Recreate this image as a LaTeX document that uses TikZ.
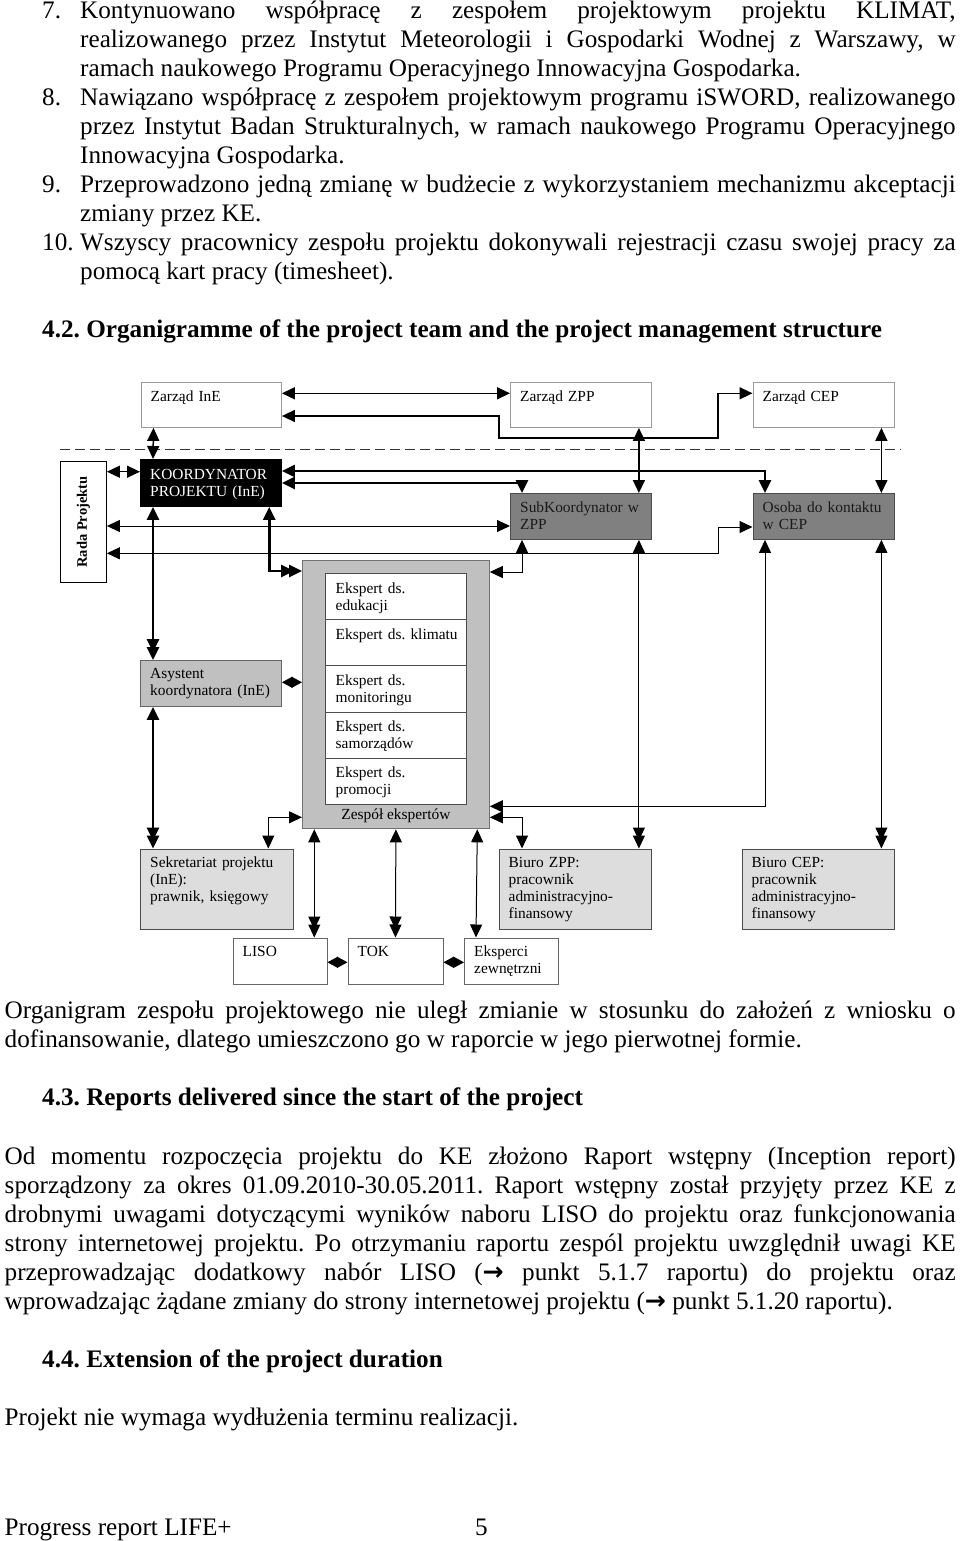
\documentclass[tikz,border=0pt]{standalone}
\usepackage{fontspec}
\setmainfont{Liberation Serif}
\newfontfamily\arrowfont{DejaVu Sans}
\usepackage{tikz}
\usetikzlibrary{arrows.meta,calc}
\definecolor{boxdark}{HTML}{808080}
\definecolor{boxmid}{HTML}{C0C0C0}
\definecolor{boxlight}{HTML}{DDDDDD}
\definecolor{rimgray}{HTML}{999999}
\newcommand\bodyfont{\fontsize{25.2pt}{29pt}\selectfont}
\newcommand\orgfont{\fontsize{15.4pt}{17pt}\selectfont}
\newcommand\fillto[2]{\makebox[#1][s]{#2}}
\newcommand\seeref{{\arrowfont\bfseries →}}
\frenchspacing
\tikzset{
  tri/.tip={Triangle[length=13pt,width=12pt]},
  dtri/.tip={Triangle[length=13pt,width=12pt,sep=-5pt]Triangle[length=13pt,width=12pt]},
  dia/.tip={Triangle[length=10.5pt,width=11pt]}
}

\begin{document}
\begin{tikzpicture}[x=1pt,y=-1pt,
  txt/.style={anchor=base west,inner sep=0pt,font=\bodyfont},
  head/.style={anchor=base west,inner sep=0pt,font=\bodyfont\bfseries},
  orgbox/.style={draw=black!75,line width=0.9pt,anchor=north west,inner sep=0pt},
  lbl/.style={anchor=base west,inner sep=0pt,font=\orgfont,align=left,text width=136pt},
  lnthin/.style={line width=1pt},
  lnmid/.style={line width=1.5pt},
  lnthick/.style={line width=2.6pt}]
  \useasboundingbox (0,0) rectangle (960,1541);

  % Items 7-10
  \node[txt] (n7) at (42,18.5) {7.};
  \node[txt] (p7a) at (80,18.5) {\fillto{875.5pt}{Kontynuowano współpracę z zespołem projektowym projektu KLIMAT,}};
  \node[txt] (p7b) at (80,47.5) {\fillto{875.5pt}{realizowanego przez Instytut Meteorologii i Gospodarki Wodnej z Warszawy, w}};
  \node[txt] (p7c) at (80,76.5) {ramach naukowego Programu Operacyjnego Innowacyjna Gospodarka.};
  \node[txt] (n8) at (42,105.5) {8.};
  \node[txt] (p8a) at (80,105.5) {\fillto{875.5pt}{Nawiązano współpracę z zespołem projektowym programu iSWORD, realizowanego}};
  \node[txt] (p8b) at (80,134.5) {\fillto{875.5pt}{przez Instytut Badan Strukturalnych, w ramach naukowego Programu Operacyjnego}};
  \node[txt] (p8c) at (80,163.5) {Innowacyjna Gospodarka.};
  \node[txt] (n9) at (42,192.5) {9.};
  \node[txt] (p9a) at (80,192.5) {\fillto{875.5pt}{Przeprowadzono jedną zmianę w budżecie z wykorzystaniem mechanizmu akceptacji}};
  \node[txt] (p9b) at (80,221.5) {zmiany przez KE.};
  \node[txt] (n10) at (42,250.5) {10.};
  \node[txt] (p10a) at (80,250.5) {\fillto{875.5pt}{Wszyscy pracownicy zespołu projektu dokonywali rejestracji czasu swojej pracy za}};
  \node[txt] (p10b) at (80,279.5) {pomocą kart pracy (timesheet).};

  \node[head] (h42) at (42,337.5) {4.2. Organigramme of the project team and the project management structure};

  % Management level
  \node[orgbox,draw=rimgray,minimum width=140.5pt,minimum height=45pt] (zine) at (140.5,382) {};
  \node[orgbox,draw=rimgray,minimum width=141pt,minimum height=45pt] (zzpp) at (510,382) {};
  \node[orgbox,draw=rimgray,minimum width=141pt,minimum height=45pt] (zcep) at (752.5,382) {};
  \node[lbl] (zine-l) at ([shift={(10,19)}]zine.north west) {Zarząd InE};
  \node[lbl] (zzpp-l) at ([shift={(10,19)}]zzpp.north west) {Zarząd ZPP};
  \node[lbl] (zcep-l) at ([shift={(10,19)}]zcep.north west) {Zarząd CEP};

  \draw[black!80,line width=1pt,dash pattern=on 10pt off 5pt] (60,449) -- (900.7,449);

  % Project level
  \node[orgbox,draw=black,minimum width=46pt,minimum height=121pt] (rada) at (60,461) {};
  \node[font=\fontsize{14.5pt}{17pt}\selectfont\bfseries,rotate=90] (rada-l) at (rada.center) {Rada Projektu};
  \node[orgbox,draw=black,fill=black,minimum width=141pt,minimum height=47pt] (koord) at (140,459) {};
  \node[lbl,text=white] (koord-l) at ([shift={(10,20)}]koord.north west) {KOORDYNATOR\\PROJEKTU (InE)};
  \node[orgbox,fill=boxdark,draw=black!70,minimum width=141pt,minimum height=46pt] (subk) at (510,493) {};
  \node[lbl,text=black!90] (subk-l) at ([shift={(10,19)}]subk.north west) {SubKoordynator w\\ZPP};
  \node[orgbox,fill=boxdark,draw=black!70,minimum width=141pt,minimum height=46pt] (osoba) at (752.5,493) {};
  \node[lbl,text=black!90] (osoba-l) at ([shift={(10,19)}]osoba.north west) {Osoba do kontaktu\\w CEP};
  \node[orgbox,fill=boxmid,draw=black!60,minimum width=141pt,minimum height=46pt] (asyst) at (140,660) {};
  \node[lbl] (asyst-l) at ([shift={(10,18)}]asyst.north west) {Asystent\\koordynatora (InE)};

  % Team of experts
  \node[orgbox,fill=boxmid,draw=black!55,line width=1.3pt,minimum width=186.5pt,minimum height=268pt] (zesp) at (302,560) {};
  \foreach \nm/\tx [count=\i from 0] in {edu/{Ekspert ds.\\edukacji},kli/{Ekspert ds. klimatu},
      mon/{Ekspert ds.\\monitoringu},sam/{Ekspert ds.\\samorządów},pro/{Ekspert ds.\\promocji}}{
    \node[orgbox,fill=white,draw=black!70,minimum width=141pt,minimum height=46.2pt] (\nm) at (325,573+46.2*\i) {};
    \node[lbl] (\nm-l) at ([shift={(10.5,20)}]\nm.north west) {\tx};
  }
  \node[font=\orgfont,anchor=base,inner sep=0pt] (zesp-l) at ([shift={(0,-9.7)}]zesp.south) {Zespół ekspertów};

  % Offices
  \node[orgbox,fill=boxlight,draw=black!70,minimum width=152.5pt,minimum height=80pt] (sekr) at (140,848.5) {};
  \node[lbl] (sekr-l) at ([shift={(10,19)}]sekr.north west) {Sekretariat projektu\\(InE):\\prawnik, księgowy};
  \node[orgbox,fill=boxlight,draw=black!70,minimum width=152.5pt,minimum height=80pt] (bzpp) at (498.5,848.5) {};
  \node[lbl] (bzpp-l) at ([shift={(10,19)}]bzpp.north west) {Biuro ZPP:\\pracownik\\administracyjno-\\finansowy};
  \node[orgbox,fill=boxlight,draw=black!70,minimum width=152pt,minimum height=80pt] (bcep) at (741.5,848.5) {};
  \node[lbl] (bcep-l) at ([shift={(10,19)}]bcep.north west) {Biuro CEP:\\pracownik\\administracyjno-\\finansowy};
  \node[orgbox,draw=black!60,minimum width=94pt,minimum height=46pt] (liso) at (232.5,937.5) {};
  \node[lbl] (liso-l) at ([shift={(10,19)}]liso.north west) {LISO};
  \node[orgbox,draw=black!60,minimum width=95pt,minimum height=46pt] (tok) at (347.5,937.5) {};
  \node[lbl] (tok-l) at ([shift={(10,19)}]tok.north west) {TOK};
  \node[orgbox,draw=black!60,minimum width=93.5pt,minimum height=46pt] (ekz) at (464,937.5) {};
  \node[lbl] (ekz-l) at ([shift={(10,19)}]ekz.north west) {Eksperci\\zewnętrzni};

  % Connectors
  \draw[lnmid,{tri}-{tri}] ([shift={(0,11.3)}]zine.north east) -- ([shift={(0,11.3)}]zzpp.north west);
  \draw[lnmid,{tri}-{tri}] ([shift={(0,34)}]zine.north east) -- (499,416) -- (499,438) -- (718,438)
    -- (718,393.3) -- ([shift={(0,11.3)}]zcep.north west);
  \draw[lnmid,{tri}-{tri}] ([shift={(13,0)}]zine.south west) -- ([shift={(13,0)}]koord.north west);
  \draw[lnmid,{tri}-{tri}] ([shift={(-13,0)}]zzpp.south east) -- ([shift={(-13,0)}]subk.north east);
  \draw[lnmid,{tri}-{tri}] ([shift={(-13,0)}]zcep.south east) -- ([shift={(-13,0)}]osoba.north east);
  \draw[lnmid,{tri}-{tri}] ([shift={(0,10.7)}]rada.north east) -- ([shift={(0,12.7)}]koord.north west);
  \draw[lnthick,{tri}-{tri}] ([shift={(0,12)}]koord.north east) -| ([shift={(12.5,0)}]osoba.north west);
  \draw[lnthick,{tri}-{tri}] ([shift={(0,24)}]koord.north east) -| ([shift={(12,0)}]subk.north west);
  \draw[lnthin,{tri}-{tri}] ([shift={(0,65)}]rada.north east) -- ([shift={(0,33)}]subk.north west);
  \draw[lnthin,{tri}-{tri}] ([shift={(0,92.3)}]rada.north east) -| (718,527) -- ([shift={(0,34)}]osoba.north west);
  \draw[lnthick,{tri}-{dtri}] ([shift={(-12.7,0)}]koord.south east) |- ([shift={(0,11)}]zesp.north west);
  \draw[lnthick,{tri}-{dtri}] ([shift={(13,0)}]koord.south west) -- ([shift={(13,0)}]asyst.north west);
  \draw[lnmid,{dia}-{dia}] ([shift={(0,22.3)}]asyst.north east) -- ([shift={(0,122.3)}]zesp.north west);
  \draw[lnthick,{tri}-{dtri}] ([shift={(13,0)}]asyst.south west) -- ([shift={(13,0)}]sekr.north west);
  \draw[lnthin,{tri}-{tri}] ([shift={(12,0)}]subk.south west) |- ([shift={(0,12)}]zesp.north east);
  \draw[lnthin,{tri}-{dtri}] ([shift={(-13,0)}]subk.south east) -- ([shift={(-13,0)}]bzpp.north east);
  \draw[lnthin,{tri}-{tri}] ([shift={(12.5,0)}]osoba.south west) |- ([shift={(0,-23)}]zesp.south east);
  \draw[lnthin,{tri}-{dtri}] ([shift={(-13,0)}]osoba.south east) -- ([shift={(-13,0)}]bcep.north east);
  \draw[lnthin,{tri}-{tri}] ([shift={(0,-12)}]zesp.south east) -| ([shift={(23.5,0)}]bzpp.north west);
  \draw[lnthin,{tri}-{tri}] ([shift={(0,-12)}]zesp.south west) -| ([shift={(128.3,0)}]sekr.north west);
  \draw[lnthin,{tri}-{dtri}] ([shift={(12.3,0)}]zesp.south west) -- ([shift={(81.8,0)}]liso.north west);
  \draw[lnthin,{tri}-{dtri}] (zesp.south) -- (tok.north);
  \draw[lnthin,{tri}-{tri}] ([shift={(-12.5,0)}]zesp.south east) -- ([shift={(12,0)}]ekz.north west);
  \draw[lnmid,{dia}-{dia}] ([shift={(0,24.8)}]liso.north east) -- ([shift={(0,24.8)}]tok.north west);
  \draw[lnmid,{dia}-{dia}] ([shift={(0,24.8)}]tok.north east) -- ([shift={(0,24.8)}]ekz.north west);

  % Text below the chart
  \node[txt] (c1) at (4.5,1018.5) {\fillto{951pt}{Organigram zespołu projektowego nie uległ zmianie w stosunku do założeń z wniosku o}};
  \node[txt] (c2) at (4.5,1047.5) {dofinansowanie, dlatego umieszczono go w raporcie w jego pierwotnej formie.};
  \node[head] (h43) at (42,1105.5) {4.3. Reports delivered since the start of the project};
  \node[txt] (r1) at (4.5,1164) {\fillto{951pt}{Od momentu rozpoczęcia projektu do KE złożono Raport wstępny (Inception report)}};
  \node[txt] (r2) at (4.5,1193) {\fillto{951pt}{sporządzony za okres 01.09.2010-30.05.2011. Raport wstępny został przyjęty przez KE z}};
  \node[txt] (r3) at (4.5,1222) {\fillto{951pt}{drobnymi uwagami dotyczącymi wyników naboru LISO do projektu oraz funkcjonowania}};
  \node[txt] (r4) at (4.5,1251) {\fillto{951pt}{strony internetowej projektu. Po otrzymaniu raportu zespól projektu uwzględnił uwagi KE}};
  \node[txt] (r5) at (4.5,1280) {\fillto{951pt}{przeprowadzając dodatkowy nabór LISO (\seeref{} punkt 5.1.7 raportu) do projektu oraz}};
  \node[txt] (r6) at (4.5,1309) {wprowadzając żądane zmiany do strony internetowej projektu (\seeref{} punkt 5.1.20 raportu).};
  \node[head] (h44) at (42,1367) {4.4. Extension of the project duration};
  \node[txt] (e1) at (4.5,1425) {Projekt nie wymaga wydłużenia terminu realizacji.};
  \node[txt] (foot) at (4.5,1535) {Progress report LIFE+};
  \node[txt] (page) at (475,1535) {5};
\end{tikzpicture}
\end{document}
